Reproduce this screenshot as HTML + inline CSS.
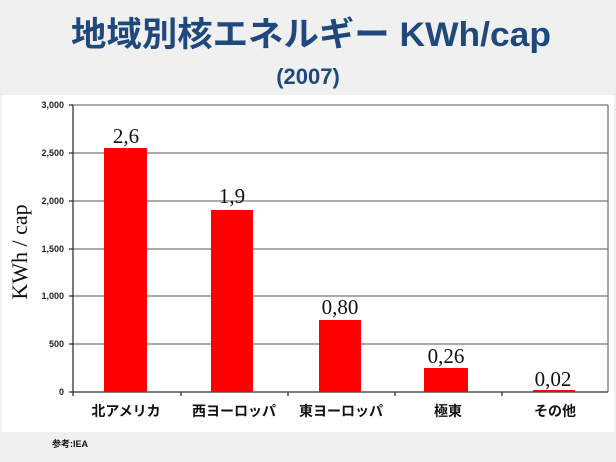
<!DOCTYPE html>
<html><head><meta charset="utf-8"><style>
body{margin:0;width:616px;height:462px;background:#f0f0f0;overflow:hidden}
svg{display:block}
</style></head><body>
<svg width="616" height="462" viewBox="0 0 616 462" xmlns="http://www.w3.org/2000/svg">
<rect x="0" y="0" width="616" height="462" fill="#f0f0f0"/>
<rect x="2" y="95" width="612" height="337" fill="#fff"/>
<text x="311" y="46" text-anchor="middle" font-family="'Liberation Sans','Noto Sans CJK JP',sans-serif" font-weight="bold" font-size="34" fill="#1f497d" textLength="480" lengthAdjust="spacingAndGlyphs">地域別核エネルギー KWh/cap</text>
<text x="308" y="84" text-anchor="middle" font-family="'Liberation Sans',sans-serif" font-weight="bold" font-size="22" fill="#1f497d">(2007)</text>
<g stroke="#777" stroke-width="1.3">
<line x1="73" y1="105" x2="608" y2="105"/>
<line x1="73" y1="153" x2="608" y2="153"/>
<line x1="73" y1="201" x2="608" y2="201"/>
<line x1="73" y1="249" x2="608" y2="249"/>
<line x1="73" y1="296" x2="608" y2="296"/>
<line x1="73" y1="344" x2="608" y2="344"/>
<line x1="608" y1="105" x2="608" y2="392"/>
</g>
<g stroke="#333" stroke-width="1.3">
<line x1="73" y1="105" x2="73" y2="396"/>
<line x1="69" y1="392" x2="608" y2="392"/>
<line x1="69" y1="105" x2="73" y2="105"/><line x1="69" y1="153" x2="73" y2="153"/><line x1="69" y1="201" x2="73" y2="201"/><line x1="69" y1="249" x2="73" y2="249"/><line x1="69" y1="296" x2="73" y2="296"/><line x1="69" y1="344" x2="73" y2="344"/>
<line x1="181" y1="392" x2="181" y2="396"/><line x1="288" y1="392" x2="288" y2="396"/><line x1="395" y1="392" x2="395" y2="396"/><line x1="502" y1="392" x2="502" y2="396"/>
</g>
<g font-family="'Liberation Sans',sans-serif" font-weight="bold" font-size="9" fill="#222" text-anchor="end">
<text x="64" y="108">3,000</text><text x="64" y="156">2,500</text><text x="64" y="204">2,000</text><text x="64" y="252">1,500</text><text x="64" y="299">1,000</text><text x="64" y="347">500</text><text x="64" y="395">0</text>
</g>
<text transform="translate(27,252) rotate(-90)" text-anchor="middle" font-family="'Liberation Serif',serif" font-size="22" fill="#111">KWh / cap</text>
<g fill="#f00">
<rect x="104" y="148" width="43" height="244"/>
<rect x="211" y="210" width="42" height="182"/>
<rect x="319" y="320" width="42" height="72"/>
<rect x="424" y="368" width="44" height="24"/>
<rect x="533" y="390" width="42" height="2"/>
</g>
<g font-family="'Liberation Serif',serif" font-size="21" fill="#111" text-anchor="middle">
<text x="126" y="143">2,6</text><text x="232" y="203">1,9</text><text x="340" y="314">0,80</text><text x="446" y="363">0,26</text><text x="553" y="386">0,02</text>
</g>
<g font-family="'Liberation Sans','Noto Sans CJK JP',sans-serif" font-weight="bold" font-size="14" fill="#111" text-anchor="middle">
<text x="126" y="416">北アメリカ</text><text x="234" y="416">西ヨーロッパ</text><text x="341" y="416">東ヨーロッパ</text><text x="448" y="416">極東</text><text x="555" y="416">その他</text>
</g>
<text x="52" y="447" font-family="'Liberation Sans','Noto Sans CJK JP',sans-serif" font-weight="bold" font-size="9" fill="#111">参考:IEA</text>
</svg>
</body></html>
